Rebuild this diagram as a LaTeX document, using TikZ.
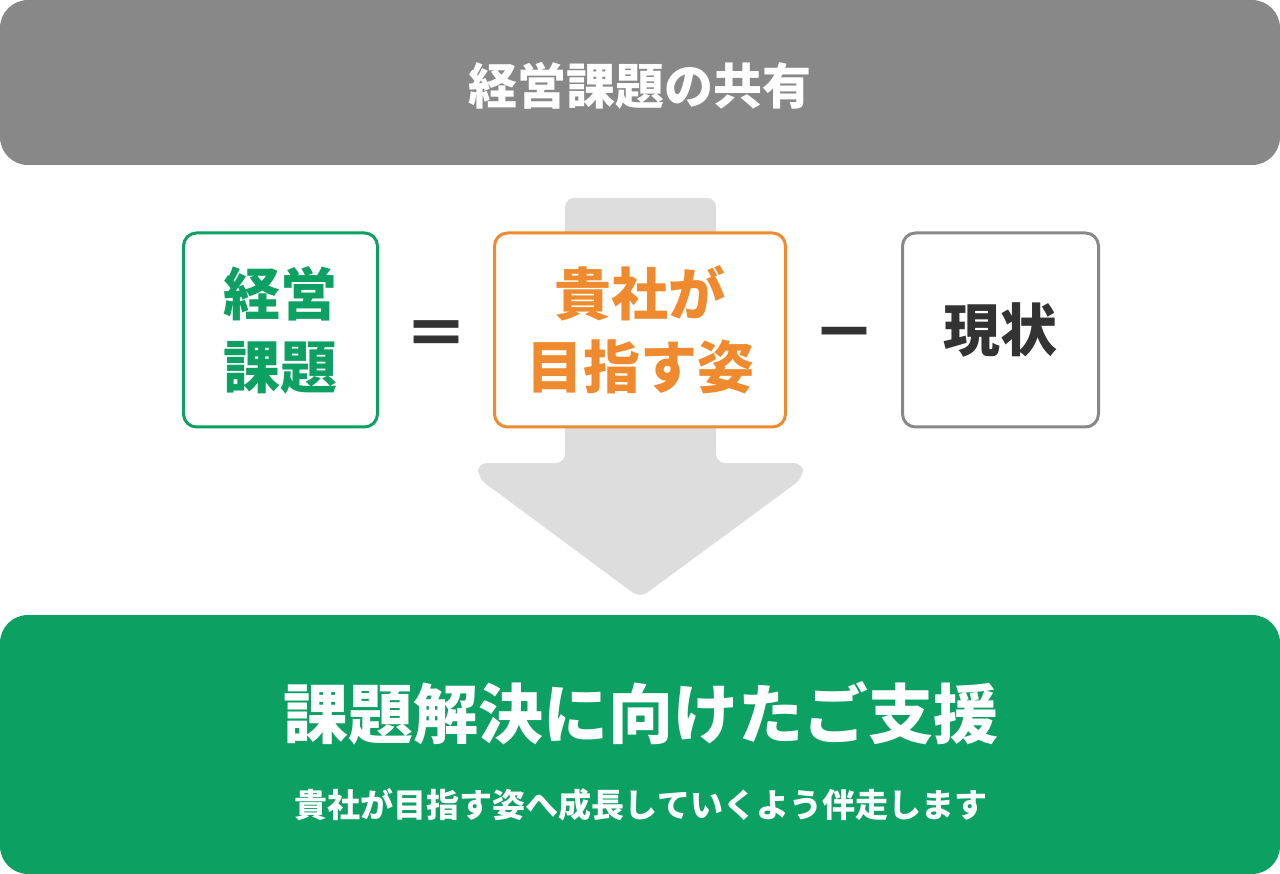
\documentclass[tikz,border=0pt]{standalone}
\usepackage{fontspec}
\setmainfont{Noto Sans CJK JP}
\usepackage{tikz}
\usetikzlibrary{positioning}
\definecolor{bargray}{HTML}{888888}
\definecolor{arrowgray}{HTML}{DDDDDD}
\definecolor{mygreen}{HTML}{0CA062}
\definecolor{myorange}{HTML}{EF8A2E}
\definecolor{darktext}{HTML}{333333}

\begin{document}
\begin{tikzpicture}[x=1pt, y=-1pt,
    bar/.style={rounded corners=28pt, minimum width=1280pt, inner sep=0pt, text=white, font=\bfseries},
    termbox/.style={draw, fill=white, line width=3pt, rounded corners=13pt, minimum height=194pt, align=center, inner sep=0pt, font=\fontsize{57}{73}\selectfont\bfseries},
    op/.style={text=darktext, inner sep=0pt, font=\fontsize{64}{64}\selectfont\bfseries}]
    \useasboundingbox (0,0) rectangle (1280,874);
    % bands
    \node[bar, fill=bargray, minimum height=165pt] (share) at (640,82.5) {};
    \node[text=white, font=\fontsize{49}{49}\selectfont\bfseries] (head) at (640,86) {経営課題の共有};
    \node[bar, fill=mygreen, minimum height=259pt] (support) at (640,744.5) {};
    \node[text=white, font=\fontsize{65}{65}\selectfont\bfseries] (title) at (641,713) {課題解決に向けたご支援};
    \node[text=white, font=\fontsize{33}{33}\selectfont\bfseries] (sub) at (641,805) {貴社が目指す姿へ成長していくよう伴走します};
    % big arrow
    \fill[arrowgray, rounded corners=9pt] (565,198) -- (716,198) -- (716,463) -- (803,463) -- (803,478)
        -- (640,598) -- (478,478) -- (478,463) -- (565,463) -- cycle;
    % terms
    \node[termbox, draw=mygreen, text=mygreen, minimum width=194pt] (issue) at (280.5,330) {経営\\課題};
    \node[termbox, draw=myorange, text=myorange, minimum width=291pt] (goal) at (640,330) {貴社が\\目指す姿};
    \node[termbox, draw=bargray, text=darktext, minimum width=196pt] (now) at (1000.5,330) {現状};
    \node[op] (eq) at (436,339) {＝};
    \node[op] (minus) at (844,341) {－};
\end{tikzpicture}
\end{document}
